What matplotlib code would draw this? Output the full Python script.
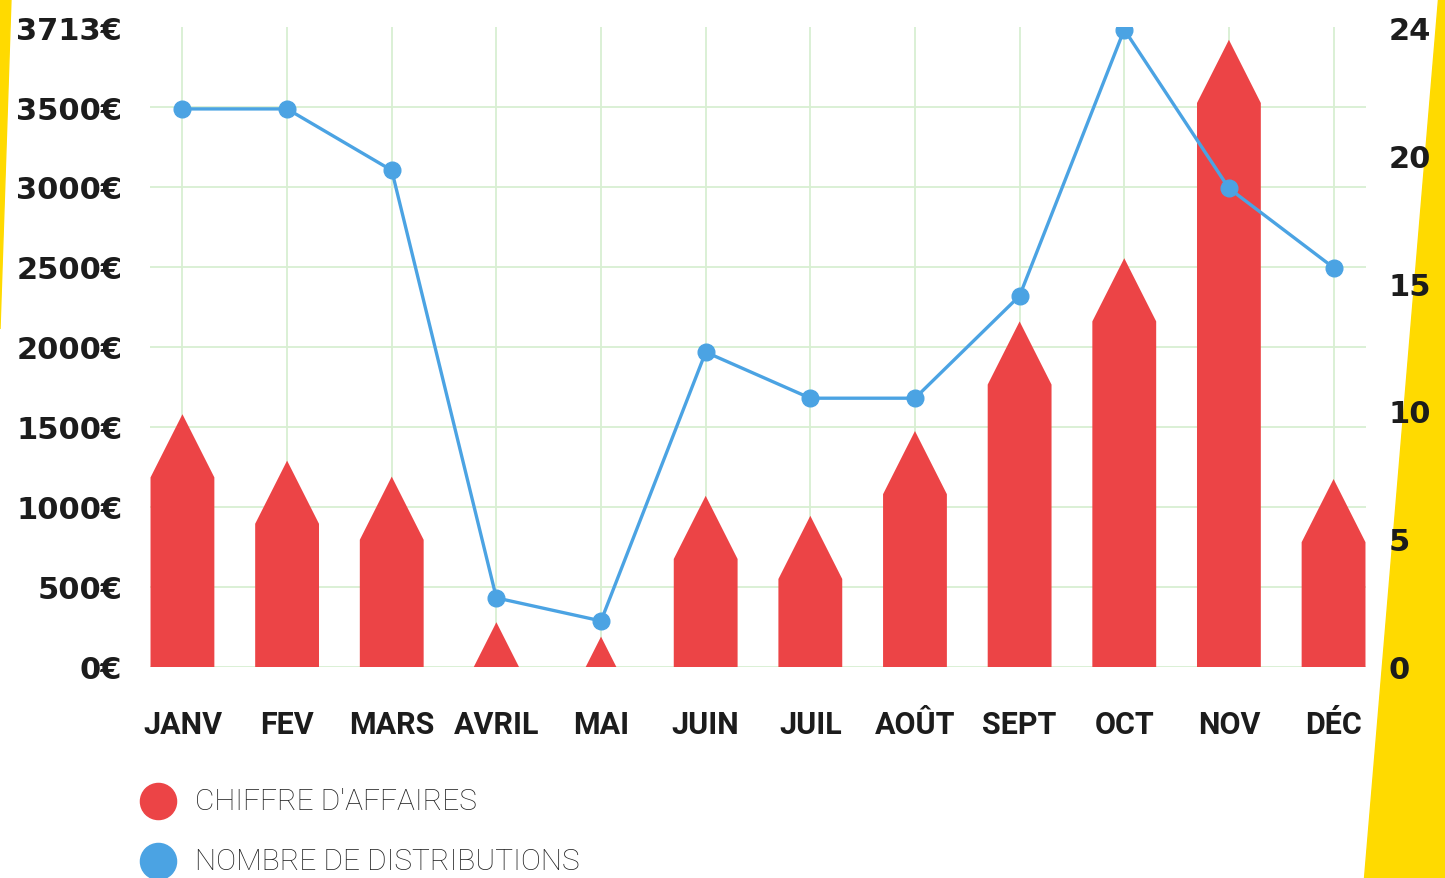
import matplotlib.pyplot as plt
from matplotlib.patches import Polygon
from matplotlib.lines import Line2D
import numpy as np

# Data

months = ["JANV", "FEV", "MARS", "AVRIL", "MAI", "JUIN", "JUIL", "AOÛT", "SEPT", "OCT", "NOV", "DÉC"]
revenue = [1580, 1290, 1190, 280, 190, 1070, 945, 1475, 2160, 2555, 3920, 1175]
distributions = [21.8, 21.8, 19.4, 2.7, 1.8, 12.3, 10.5, 10.5, 14.5, 24.9, 18.7, 15.6]

left_ticks = [0, 500, 1000, 1500, 2000, 2500, 3000, 3500, 4000]
left_labels = ["0€", "500€", "1000€", "1500€", "2000€", "2500€", "3000€", "3500€", "3713€"]
right_ticks = [0, 5, 10, 15, 20, 25]
right_labels = ["0", "5", "10", "15", "20", "24"]

RED = "#ec4446"
BLUE = "#4ba3e3"
YELLOW = "#ffda00"
GRID = "#d8efd2"
INK = "#1c1c1c"

W, H = 1445, 879
fig = plt.figure(figsize=(W / 100, H / 100), dpi=100)
fig.patch.set_facecolor("white")

# yellow decorations on the edges
fig.patches.append(Polygon([(0, 1), (11 / W, 1), (0, 1 - 330 / H)], closed=True,
                           transform=fig.transFigure, color=YELLOW, zorder=-1))
fig.patches.append(Polygon([(1438 / W, 1), (1, 1), (1, 0), (1364 / W, 0)], closed=True,
                           transform=fig.transFigure, color=YELLOW, zorder=-1))

ax = fig.add_axes([150 / W, 1 - 668 / H, (1366 - 150) / W, (668 - 28) / H])
ax.set_facecolor("none")

x = np.arange(len(months))
bar_w = 0.61
cap = 395  # height of the arrow head in €

for xi, v in zip(x, revenue):
    if v > cap:
        hw = bar_w / 2
        pts = [(xi - hw, 0), (xi + hw, 0), (xi + hw, v - cap), (xi, v), (xi - hw, v - cap)]
    else:
        hw = bar_w / 2 * v / cap
        pts = [(xi - hw, 0), (xi + hw, 0), (xi, v)]
    ax.add_patch(Polygon(pts, closed=True, facecolor=RED, edgecolor="none", zorder=2))

ax.set_xlim(-0.31, len(months) - 1 + 0.31)
ax.set_ylim(0, 4000)
ax.set_xticks(x)
ax.set_xticklabels(months, fontfamily="Roboto", fontweight="bold", fontsize=22, color=INK)
ax.set_yticks(left_ticks)
ax.set_yticklabels(left_labels, fontfamily="DejaVu Sans", fontweight="bold", fontsize=22, color=INK)
ax.tick_params(axis="x", length=0, pad=30)
ax.tick_params(axis="y", length=0, pad=20)

ax.set_axisbelow(True)
ax.grid(True, color=GRID, linewidth=1.3)
ax.yaxis.get_gridlines()[-1].set_visible(False)
for s in ax.spines.values():
    s.set_visible(False)

ax2 = ax.twinx()
ax2.plot(x, distributions, color=BLUE, linewidth=2.4, marker="o", markersize=12, zorder=3)
ax2.set_ylim(0, 25)
ax2.set_yticks(right_ticks)
ax2.set_yticklabels(right_labels, fontfamily="DejaVu Sans", fontweight="bold", fontsize=22, color=INK)
ax2.tick_params(axis="y", length=0, pad=16)
for s in ax2.spines.values():
    s.set_visible(False)

# legend
for yy, col, txt in [(802, RED, "CHIFFRE D'AFFAIRES"), (862, BLUE, "NOMBRE DE DISTRIBUTIONS")]:
    fig.add_artist(Line2D([158 / W], [1 - yy / H], transform=fig.transFigure, marker="o",
                          markersize=26, color=col, linestyle="none"))
    fig.text(195 / W, 1 - yy / H, txt, fontfamily="Roboto", fontweight="light", fontsize=21.5,
             color="#222222", va="center", ha="left")

fig.savefig("out.png", dpi=100)
